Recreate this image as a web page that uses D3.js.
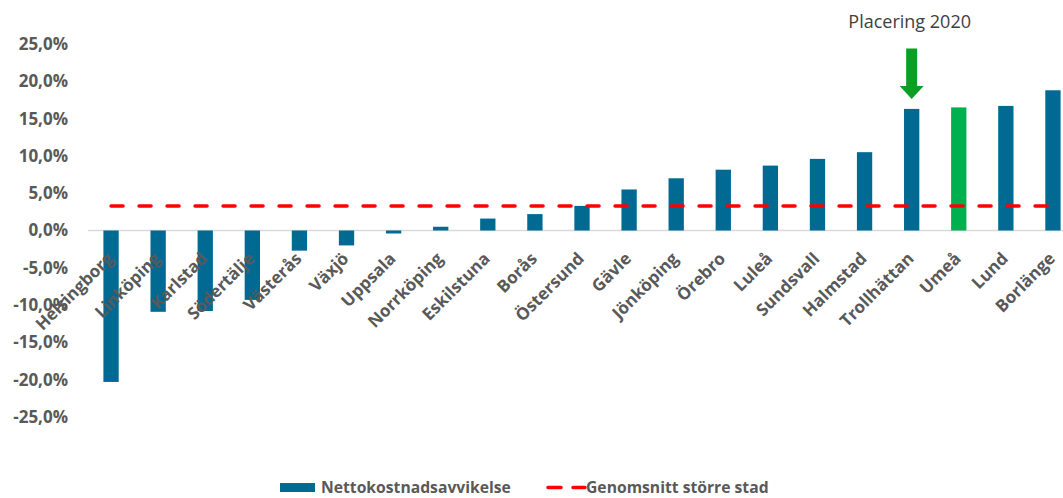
<!DOCTYPE html>
<html>
<head>
<meta charset="utf-8">
<script src="https://cdn.jsdelivr.net/npm/d3@7"></script>
<style>
  html, body { margin: 0; padding: 0; background: #fff; }
  svg { display: block; }
  text { font-family: "Open Sans", "Liberation Sans", sans-serif; }
</style>
</head>
<body>
<svg id="chart" width="1063" height="498"></svg>
<script>
// ---- data ----
const categories = ["Helsingborg","Linköping","Karlstad","Södertälje","Västerås","Växjö","Uppsala","Norrköping","Eskilstuna","Borås","Östersund","Gävle","Jönköping","Örebro","Luleå","Sundsvall","Halmstad","Trollhättan","Umeå","Lund","Borlänge"];
const nettokostnad = [-20.3,-10.9,-10.8,-9.3,-2.7,-2.0,-0.4,0.5,1.6,2.2,3.3,5.5,7.0,8.15,8.7,9.6,10.5,16.3,16.5,16.7,18.8];
const genomsnitt = [3.3,3.3,3.3,3.3,3.3,3.3,3.3,3.3,3.3,3.3,3.3,3.3,3.3,3.3,3.3,3.3,3.3,3.3,3.3,3.3,3.3];
const yTicks = [25,20,15,10,5,0,-5,-10,-15,-20,-25];
const highlight = "Umeå";
const arrowTarget = "Trollhättan";
const annotation = "Placering 2020";
const arrowTop = 24.4;
const seriesNames = ["Nettokostnadsavvikelse","Genomsnitt större stad"];

// ---- layout ----
const svg = d3.select("#chart");
const x = d3.scaleBand().domain(categories).range([87.5, 1076.5]).paddingInner(0.675).paddingOuter(0.3375);
const y = d3.scaleLinear().domain([-25, 25]).range([417, 44]);
const fmt = v => d3.format(".1f")(v).replace(".", ",").replace("−","-") + "%";
const grey = "#595959";
const blue = "#016a93";
const green = "#00b050";

// y tick labels
svg.append("g").selectAll("text").data(yTicks).join("text")
  .attr("x", 68).attr("y", d => y(d)).attr("dy", "0.35em")
  .attr("text-anchor", "end").attr("font-size", 17).attr("font-weight", 700)
  .attr("fill", grey).text(d => fmt(d));

// zero line
svg.append("line").attr("x1", 88).attr("x2", 1063).attr("y1", y(0)).attr("y2", y(0))
  .attr("stroke", "#d9d9d9").attr("stroke-width", 1.5);

// bars
svg.append("g").selectAll("rect").data(categories).join("rect")
  .attr("x", d => x(d)).attr("width", x.bandwidth())
  .attr("y", (d, i) => y(Math.max(0, nettokostnad[i])))
  .attr("height", (d, i) => Math.abs(y(nettokostnad[i]) - y(0)))
  .attr("fill", d => d === highlight ? green : blue);

// category labels
svg.append("g").selectAll("text").data(categories).join("text")
  .attr("transform", d => `translate(${x(d) + x.bandwidth()/2 - 1},${y(0) + 25}) rotate(-45)`)
  .attr("dy", "0.35em").attr("text-anchor", "end")
  .attr("font-size", 17).attr("font-weight", 700).attr("fill", grey)
  .text(d => d);

// average line
const line = d3.line().x((d, i) => x(categories[i]) + x.bandwidth()/2).y(d => y(d));
svg.append("path").datum(genomsnitt).attr("d", line)
  .attr("fill", "none").attr("stroke", "#ff0000").attr("stroke-width", 3.5)
  .attr("stroke-dasharray", "12,16").attr("stroke-linecap", "round");

// arrow annotation
const ai = categories.indexOf(arrowTarget);
const ax = x(arrowTarget) + x.bandwidth()/2;
const aTip = y(nettokostnad[ai]) - 10;
const aTop = y(arrowTop);
const headH = 13, shaftW = 11, headW = 24;
svg.append("path")
  .attr("d", `M${ax - shaftW/2},${aTop} L${ax + shaftW/2},${aTop} L${ax + shaftW/2},${aTip - headH} L${ax + headW/2},${aTip - headH} L${ax},${aTip} L${ax - headW/2},${aTip - headH} L${ax - shaftW/2},${aTip - headH} Z`)
  .attr("fill", "#0a9f23");
svg.append("text").attr("x", ax - 2).attr("y", 28).attr("text-anchor", "middle")
  .attr("font-size", 18).attr("fill", "#404040").text(annotation);

// legend
const lg = svg.append("g");
const ly = 487.5;
lg.append("rect").attr("x", 280).attr("y", ly - 4.5).attr("width", 35).attr("height", 9).attr("fill", blue);
lg.append("text").attr("x", 321).attr("y", ly).attr("dy", "0.35em")
  .attr("font-size", 15.7).attr("font-weight", 700).attr("fill", grey).text(seriesNames[0]);
lg.append("line").attr("x1", 548).attr("x2", 585).attr("y1", ly).attr("y2", ly)
  .attr("stroke", "#ff0000").attr("stroke-width", 3.5).attr("stroke-dasharray", "13,12").attr("stroke-linecap", "round");
lg.append("text").attr("x", 586).attr("y", ly).attr("dy", "0.35em")
  .attr("font-size", 15.7).attr("font-weight", 700).attr("fill", grey).text(seriesNames[1]);
</script>
</body>
</html>
